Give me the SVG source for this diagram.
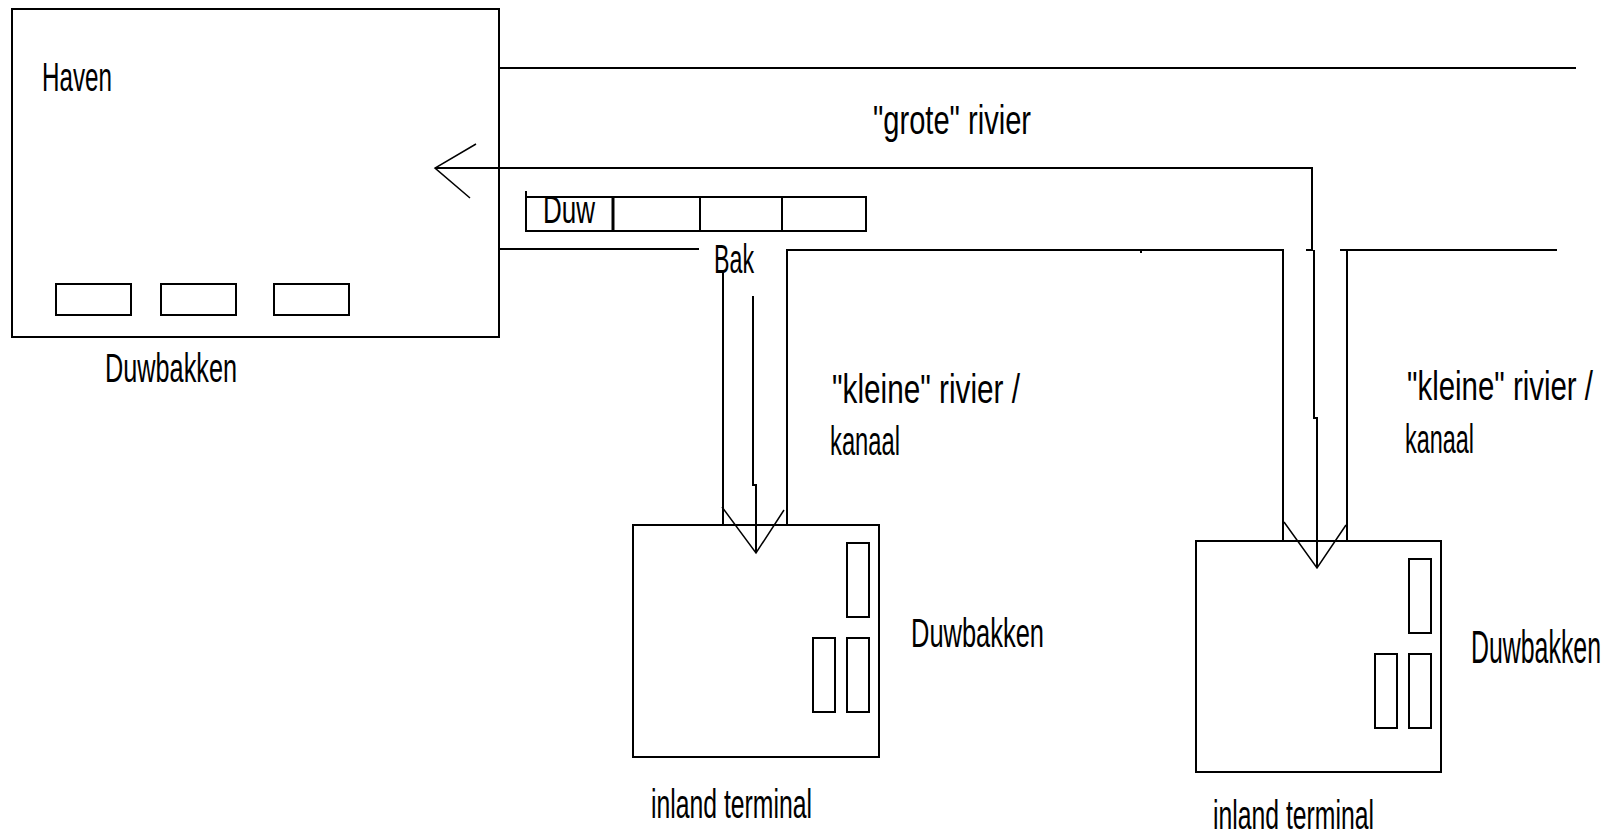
<svg xmlns="http://www.w3.org/2000/svg" width="1611" height="837" viewBox="0 0 1611 837">
<style>
.b{fill:none;stroke:#000;stroke-width:2}
.l{fill:none;stroke:#000;stroke-width:2;stroke-linecap:square}
.t{stroke:#000;stroke-width:1.5;fill:none}
text{font-family:"Liberation Sans",Arial,sans-serif;font-size:28px;fill:#000}
</style>
<rect width="1611" height="837" fill="#fff"/>
<g id="haven">
<rect class="b" x="12" y="9" width="487" height="328"/>
<rect class="b" x="56" y="284" width="75" height="31"/>
<rect class="b" x="161" y="284" width="75" height="31"/>
<rect class="b" x="274" y="284" width="75" height="31"/>
<text transform="translate(42 91) scale(1 1.45)" textLength="70" lengthAdjust="spacingAndGlyphs">Haven</text>
<text transform="translate(105 382) scale(1 1.45)" textLength="132" lengthAdjust="spacingAndGlyphs">Duwbakken</text>
</g>
<g id="duwbak">
<rect class="b" x="526" y="197" width="340" height="34"/>
<line class="l" x1="526" y1="192" x2="526" y2="197"/>
<line x1="613" y1="197" x2="613" y2="231" stroke="#000" stroke-width="3"/>
<line class="b" x1="700" y1="197" x2="700" y2="231"/>
<line class="b" x1="782" y1="197" x2="782" y2="231"/>
<text transform="translate(543 223) scale(1 1.4)" textLength="52" lengthAdjust="spacingAndGlyphs">Duw</text>
<text transform="translate(714 273) scale(1 1.45)" textLength="40" lengthAdjust="spacingAndGlyphs">Bak</text>
</g>
<g id="terminal1">
<rect class="b" x="633" y="525" width="246" height="232"/>
<rect class="b" x="847" y="543" width="22" height="74"/>
<rect class="b" x="813" y="638" width="22" height="74"/>
<rect class="b" x="847" y="638" width="22" height="74"/>
<text transform="translate(911 647) scale(1 1.45)" textLength="133" lengthAdjust="spacingAndGlyphs">Duwbakken</text>
<text transform="translate(651 818) scale(1 1.45)" textLength="161" lengthAdjust="spacingAndGlyphs">inland terminal</text>
</g>
<g id="terminal2">
<rect class="b" x="1196" y="541" width="245" height="231"/>
<rect class="b" x="1409" y="559" width="22" height="74"/>
<rect class="b" x="1375" y="654" width="22" height="74"/>
<rect class="b" x="1409" y="654" width="22" height="74"/>
<text transform="translate(1471 663) scale(1 1.62)" font-size="25" textLength="130" lengthAdjust="spacingAndGlyphs">Duwbakken</text>
<text transform="translate(1213 829) scale(1 1.45)" textLength="161" lengthAdjust="spacingAndGlyphs">inland terminal</text>
</g>
<g id="labels">
<text transform="translate(873 134) scale(1 1.45)" textLength="158" lengthAdjust="spacingAndGlyphs">"grote" rivier</text>
<text transform="translate(832 403) scale(1 1.45)" textLength="188" lengthAdjust="spacingAndGlyphs">"kleine" rivier /</text>
<text transform="translate(830 455) scale(1 1.45)" textLength="70" lengthAdjust="spacingAndGlyphs">kanaal</text>
<text transform="translate(1407 400) scale(1 1.45)" textLength="186" lengthAdjust="spacingAndGlyphs">"kleine" rivier /</text>
<text transform="translate(1405 453) scale(1 1.45)" textLength="69" lengthAdjust="spacingAndGlyphs">kanaal</text>
</g>
<g id="connectors">
<line class="b" x1="499" y1="68" x2="1576" y2="68"/>
<path class="b" d="M435 168 H1312 V250 H1306 M1314 250 V418 H1317 V568"/>
<path class="t" d="M476 144 L435 168 L470 198"/>
<path class="b" d="M499 249 H699"/>
<path class="b" d="M723 273 V525"/>
<path class="b" d="M787 525 V250 H1283 V541"/>
<path class="b" d="M1557 250 H1340 M1347 250 V541"/>
<line class="b" x1="1141" y1="249" x2="1141" y2="253"/>
<path class="b" d="M753 296 V485 H756 V553"/>
<path class="t" d="M722 507 L756 553 L784 510"/>
<path class="t" d="M1284 522 L1317 568 L1346 525"/>
</g>
</svg>
